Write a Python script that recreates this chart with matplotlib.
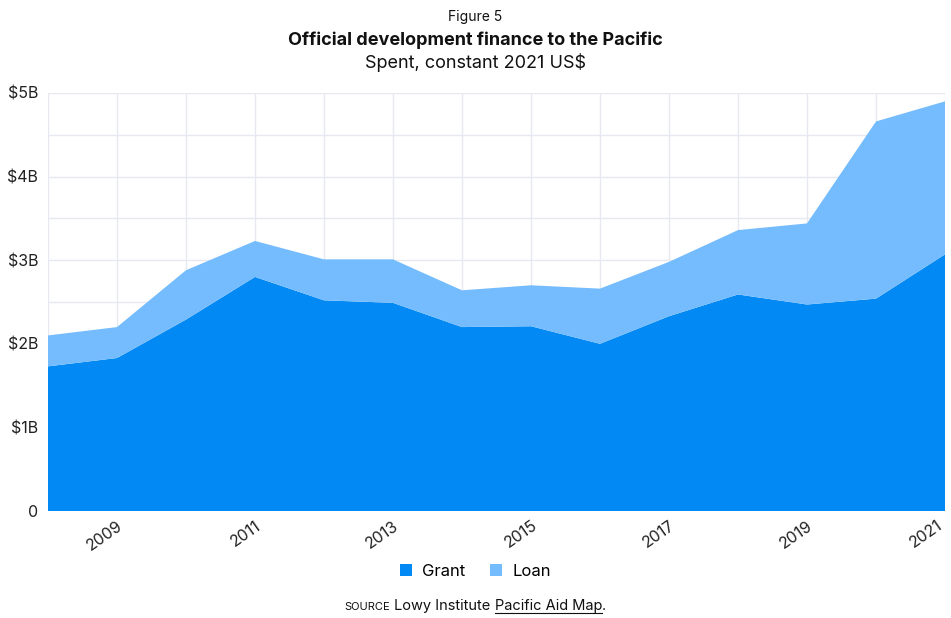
import matplotlib
matplotlib.use("Agg")
import matplotlib.pyplot as plt
from matplotlib.patches import Patch
from matplotlib.lines import Line2D
from matplotlib.transforms import ScaledTranslation

plt.rcParams["font.family"] = ["Inter", "DejaVu Sans"]

years = list(range(2008, 2022))
grant = [1.73, 1.83, 2.29, 2.80, 2.52, 2.49, 2.20, 2.21, 2.00, 2.33, 2.59, 2.47, 2.54, 3.07]
total = [2.10, 2.20, 2.88, 3.23, 3.01, 3.01, 2.64, 2.70, 2.66, 2.98, 3.36, 3.44, 4.66, 4.90]
loan = [round(t - g, 2) for t, g in zip(total, grant)]
y_ticks = [0, 1, 2, 3, 4, 5]
y_labels = ["0", "$1B", "$2B", "$3B", "$4B", "$5B"]
x_label_years = [2009, 2011, 2013, 2015, 2017, 2019, 2021]

grant_color = "#0289F3"
loan_color = "#74BCFD"
grid_color = "#E6EAF0"

fig = plt.figure(figsize=(9.51, 6.18), dpi=100)
W, H = 951, 618
ax = fig.add_axes([48 / W, 1 - 511 / H, (945 - 48) / W, (511 - 93) / H])

ax.stackplot(years, grant, loan, colors=[grant_color, loan_color],
             labels=["Grant", "Loan"], linewidth=0, zorder=2)

ax.set_xlim(2008, 2021)
ax.set_ylim(0, 5)
ax.set_yticks(y_ticks)
ax.set_yticklabels(y_labels)
ax.set_yticks([0.5, 1.5, 2.5, 3.5, 4.5], minor=True)
ax.set_xticks(years, minor=True)
ax.set_xticks(x_label_years)
ax.set_xticklabels([str(y) for y in x_label_years], rotation=35,
                   ha="right", va="top", rotation_mode="anchor")
ax.grid(True, which="both", color=grid_color, linewidth=1.0, zorder=0)
ax.set_axisbelow(True)
for s in ax.spines.values():
    s.set_visible(False)
ax.tick_params(axis="both", which="both", length=0, labelsize=11.5,
               colors="#222222")
ax.tick_params(axis="y", pad=7)
ax.tick_params(axis="x", pad=5)

# Nudge the last year label so it stays inside the figure edge
last = ax.xaxis.get_major_ticks()[-1].label1
last.set_transform(last.get_transform()
                   + ScaledTranslation(-6 / 72, 0, fig.dpi_scale_trans))

# Titles
fig.text(0.5, 1 - 17 / H, "Figure 5", ha="center", va="center", fontsize=10,
         color="#111111")
fig.text(0.5, 1 - 40 / H, "Official development finance to the Pacific",
         ha="center", va="center", fontsize=13, fontweight="bold",
         color="#111111")
fig.text(0.5, 1 - 62 / H, "Spent, constant 2021 US$", ha="center",
         va="center", fontsize=13, color="#111111")

# Legend
handles = [Patch(facecolor=grant_color, edgecolor="none"),
           Patch(facecolor=loan_color, edgecolor="none")]
fig.legend(handles, ["Grant", "Loan"], loc="center",
           bbox_to_anchor=(0.5, 1 - 571 / H), ncol=2, frameon=False,
           fontsize=12, handlelength=0.7, handleheight=0.7,
           handletextpad=0.6, columnspacing=1.5)

# Source line
y_src = 1 - 610 / H
t1 = fig.text(0.5, y_src, "SOURCE", fontsize=8, ha="left", va="baseline",
              color="#111111")
t2 = fig.text(0.5, y_src, " Lowy Institute ", fontsize=10.5, ha="left",
              va="baseline", color="#111111")
t3 = fig.text(0.5, y_src, "Pacific Aid Map", fontsize=10.5, ha="left",
              va="baseline", color="#111111")
t4 = fig.text(0.5, y_src, ".", fontsize=10.5, ha="left", va="baseline",
              color="#111111")
fig.canvas.draw()
r = fig.canvas.get_renderer()
parts = [t1, t2, t3, t4]
widths = [p.get_window_extent(r).width for p in parts]
x = (W - sum(widths)) / 2
for p, w in zip(parts, widths):
    p.set_x(x / W)
    x += w
fig.canvas.draw()
bb = t3.get_window_extent(r)
uy = y_src * H - 2.5
fig.add_artist(Line2D([bb.x0 / W, bb.x1 / W], [uy / H, uy / H],
                      transform=fig.transFigure, color="#111111",
                      linewidth=0.8))

fig.savefig("out.png", dpi=100)
